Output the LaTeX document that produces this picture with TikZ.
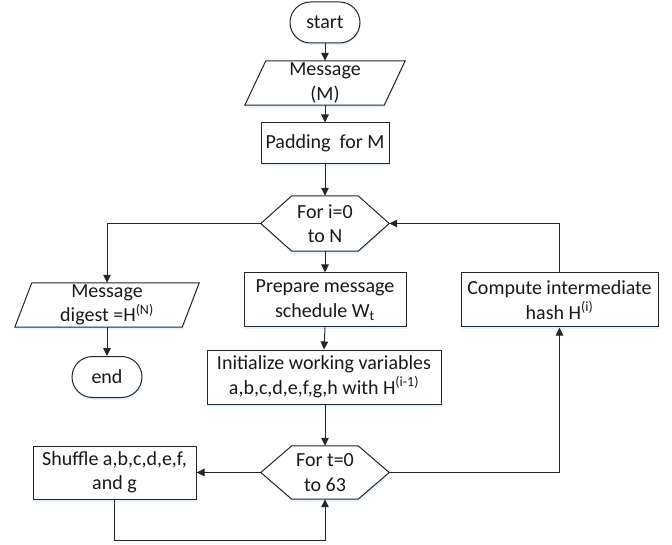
\documentclass[tikz,border=0pt]{standalone}
\usepackage{fontspec}
\setmainfont{Carlito}
\usetikzlibrary{arrows.meta,shadows}
\pgfdeclarelayer{bg}
\pgfsetlayers{bg,main}

% parallelogram drawn behind a node: #1 node name, #2 slant
\newcommand{\drawpara}[2]{%
  \begin{pgfonlayer}{bg}
    \draw[outline] ([xshift=-#2]#1.south west) -- (#1.south east)
      -- ([xshift=#2]#1.north east) -- (#1.north west) -- cycle;
  \end{pgfonlayer}}
% hexagon drawn behind a node: #1 node name, #2 corner inset
\newcommand{\drawhex}[2]{%
  \begin{pgfonlayer}{bg}
    \draw[outline] (#1.west) -- ([xshift=#2]#1.north west)
      -- ([xshift=-#2]#1.north east) -- (#1.east)
      -- ([xshift=-#2]#1.south east) -- ([xshift=#2]#1.south west) -- cycle;
  \end{pgfonlayer}}

\begin{document}
\begin{tikzpicture}[x=1pt,y=-1pt,
  font=\fontsize{20}{24.5}\selectfont,
  soft shadow/.style={drop shadow={shadow xshift=0.5pt, shadow yshift=-2.5pt,
      fill=blue!45!cyan!35!white, opacity=0.3}},
  base/.style={align=center, inner sep=0pt, text=black!90},
  outline/.style={draw=black!85, line width=1pt, fill=white, soft shadow},
  procbox/.style={base, outline, minimum height=54pt},
  pill/.style={base, outline, rounded corners=20.5pt, minimum width=70pt,
      minimum height=41pt},
  flow/.style={draw=black!85, line width=1pt,
      -{Triangle[length=8pt,width=7.5pt]}},
]
\useasboundingbox (0,0) rectangle (672,545);

% main column
\node[pill] (start) at (325,22.5) {start};
\node[base, minimum width=118pt, minimum height=44pt] (msg) at (325,83) {Message\\(M)};
\drawpara{msg}{21pt}
\node[procbox, minimum width=128pt, minimum height=41pt] (pad) at (325,143.5) {Padding\ \ for M};
\node[base, minimum width=128pt, minimum height=55pt] (fi) at (325,223.5) {For i=0\\to N};
\drawhex{fi}{31pt}
\node[procbox, minimum width=162pt] (prep) at (325,300) {Prepare message\\schedule W\textsubscript{t}};
\node[procbox, minimum width=234pt] (init) at (324,377) {Initialize working variables\\a,b,c,d,e,f,g,h with H\textsuperscript{(i-1)}};
\node[base, minimum width=128pt, minimum height=53pt] (ft) at (325,472.5) {For t=0\\to 63};
\drawhex{ft}{31pt}

% left column
\node[base, minimum width=150pt, minimum height=44pt] (dig) at (107,305) {Message\\digest =H\textsuperscript{(N)}};
\drawpara{dig}{17pt}
\node[pill] (end) at (107,377) {end};
\node[procbox, minimum width=163pt, minimum height=53pt] (shuf) at (114.5,472.5) {Shuffle a,b,c,d,e,f,\\and g};

% right column
\node[procbox, minimum width=197pt] (comp) at (559.5,300) {Compute intermediate\\hash H\textsuperscript{(i)}};

\coordinate (lb) at (114.5,540);

% connectors
\draw[flow] (start.south) -- (msg.north);
\draw[flow] (msg.south) -- (pad.north);
\draw[flow] (pad.south) -- (fi.north);
\draw[flow] (fi.south) -- (prep.north);
\draw[flow] (prep.south) -- (init.north);
\draw[flow] (init.south -| ft.north) -- (ft.north);
\draw[flow] (fi.west) -| (dig.north);
\draw[flow] (dig.south) -- (end.north);
\draw[flow] (ft.west) -- (shuf.east);
\draw[flow] (shuf.south) -- (shuf.south |- lb) -| (ft.south);
\draw[flow] (ft.east) -| (comp.south);
\draw[flow] (comp.north) |- (fi.east);
\end{tikzpicture}
\end{document}
